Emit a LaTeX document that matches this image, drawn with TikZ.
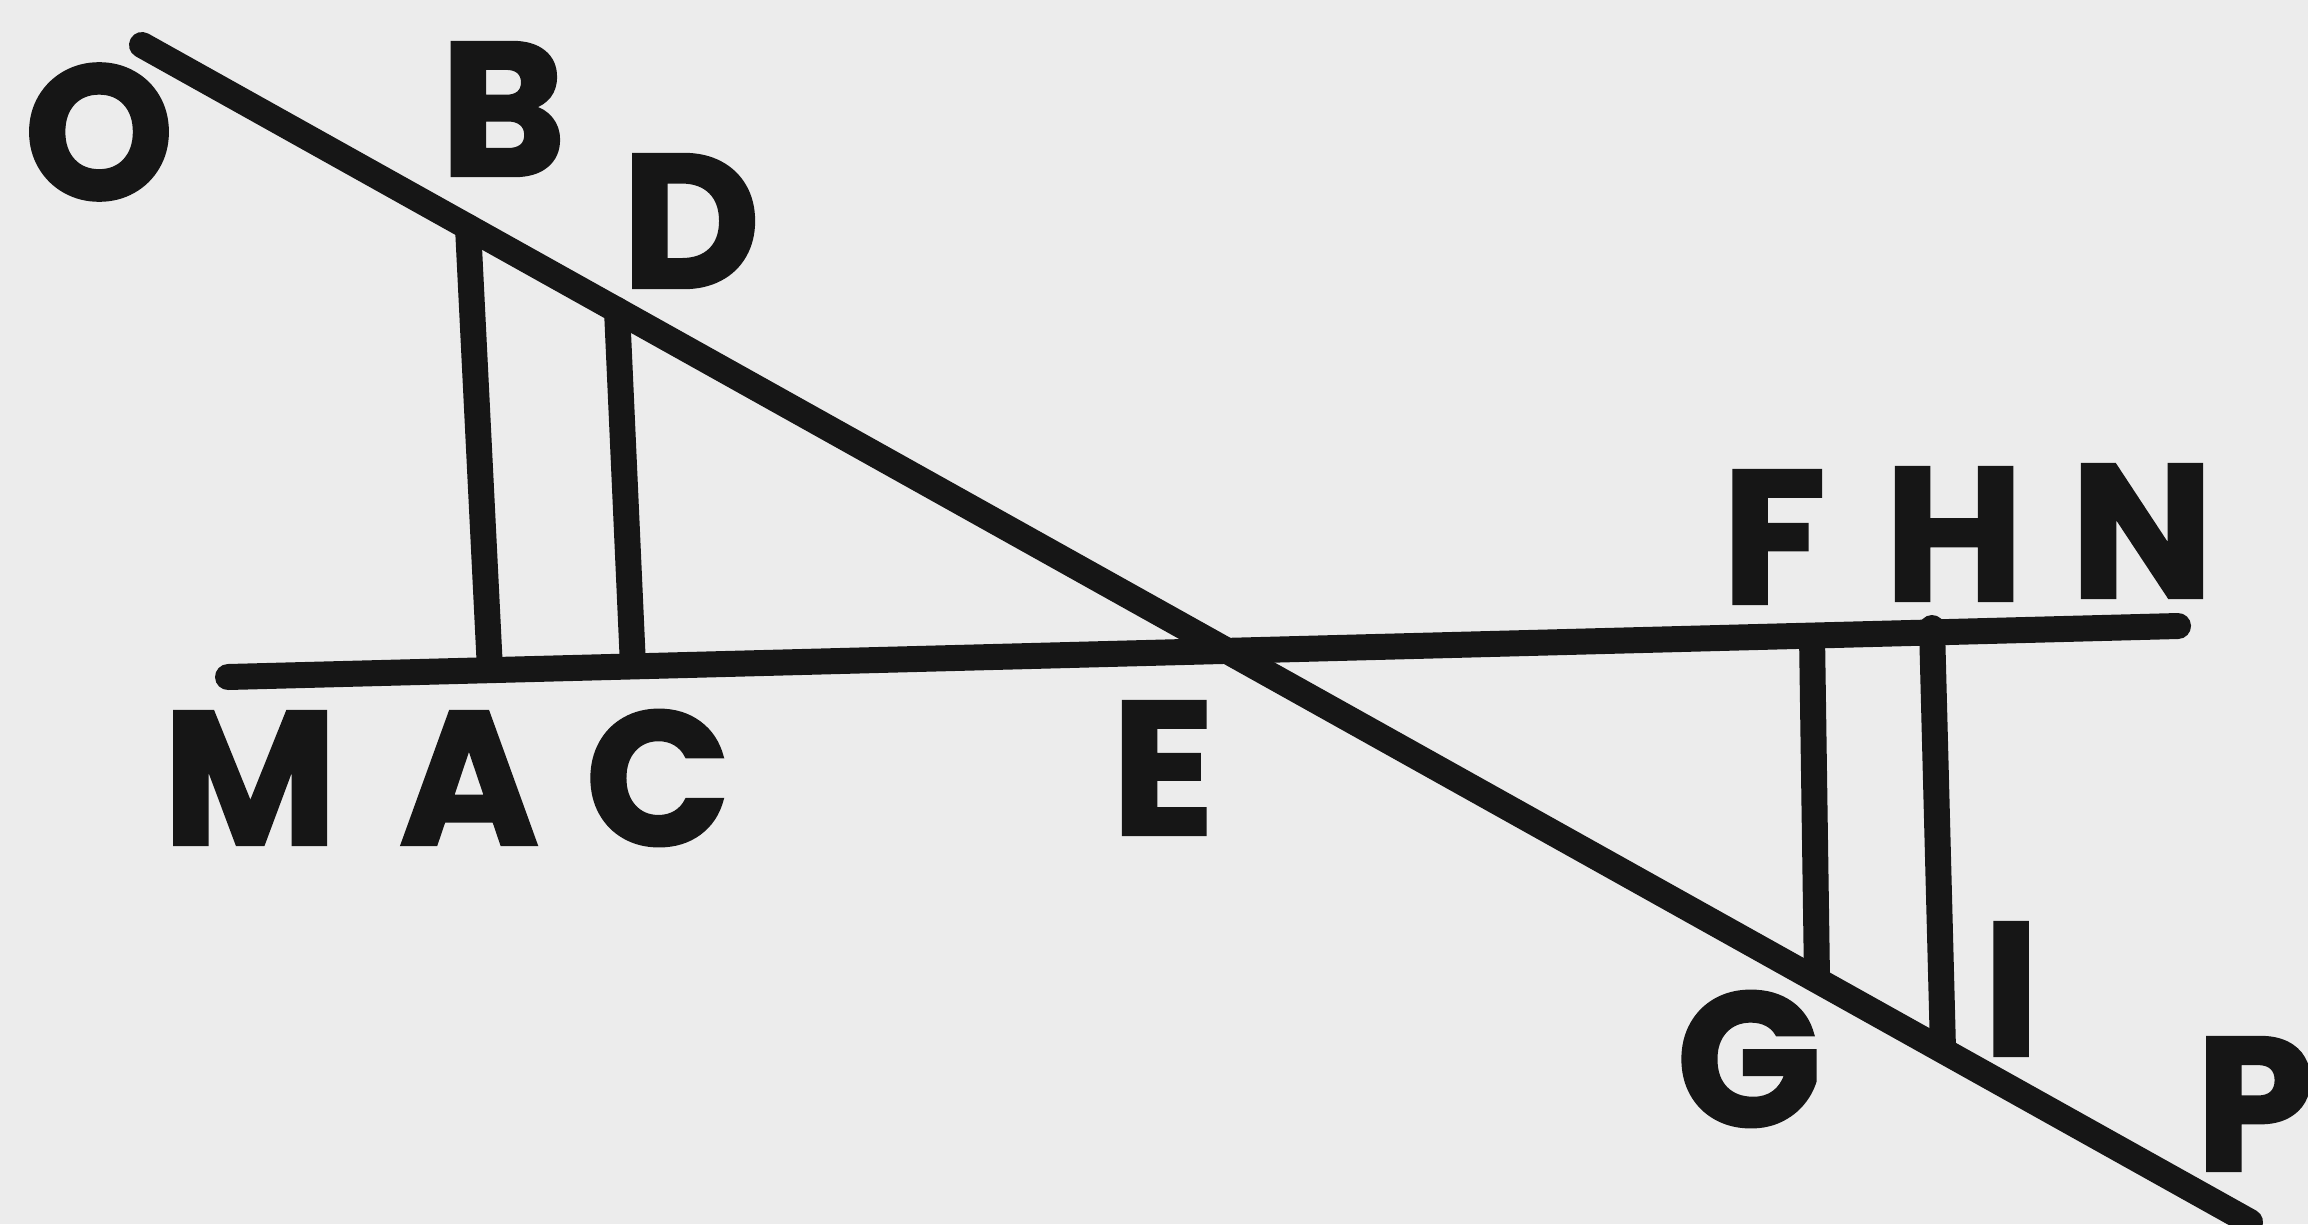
\documentclass[tikz,border=0pt]{standalone}
\usepackage{fontspec}
\setmainfont{Poppins}[BoldFeatures={FakeBold=1.6}]
\definecolor{ink}{RGB}{22,22,22}
\definecolor{paper}{RGB}{236,236,236}
\tikzset{
  ln/.style={draw=ink, line width=2.6pt, line cap=round},
  lbl/.style={inner sep=0pt, anchor=center, text=ink, font=\fontsize{19}{19}\selectfont\bfseries}
}
\begin{document}
\begin{tikzpicture}[x=0.1pt,y=0.1pt,yscale=-1,xscale=1]
		%set diagram frame: 2308 x 1224
		\fill [paper] (0,0) rectangle (2308,1224);
		\useasboundingbox (0,0) rectangle (2308,1224);
		
		% Points on the lines
		\coordinate (O) at (142,45);
		\coordinate (P) at (2250,1222);
		\coordinate (M) at (228,677);
		\coordinate (N) at (2178,626);
		\coordinate (B) at (468,227);
		\coordinate (A) at (490,670);
		\coordinate (D) at (617,310);
		\coordinate (C) at (633,666);
		\coordinate (F) at (1812,636);
		\coordinate (G) at (1817,980);
		\coordinate (H) at (1932,628);
		\coordinate (I) at (1943,1050);
		
		%Straight Lines
		\draw [ln] (O) -- (P) ;
		%Straight Lines
		\draw [ln] (M) -- (N) ;
		%Straight Lines
		\draw [ln] (B) -- (A) ;
		%Straight Lines
		\draw [ln] (D) -- (C) ;
		%Straight Lines
		\draw [ln] (F) -- (G) ;
		%Straight Lines
		\draw [ln] (H) -- (I) ;
		
		% Text Node
		\node [lbl] (labO) at (99,132) {O};
		% Text Node
		\node [lbl] (labB) at (503,109) {B};
		% Text Node
		\node [lbl] (labD) at (691,221) {D};
		% Text Node
		\node [lbl] (labM) at (250,778) {M};
		% Text Node
		\node [lbl] (labA) at (469,778) {A};
		% Text Node
		\node [lbl] (labC) at (658,778) {C};
		% Text Node
		\node [lbl] (labE) at (1163,768) {E};
		% Text Node
		\node [lbl] (labF) at (1774,537) {F};
		% Text Node
		\node [lbl] (labH) at (1954,534) {H};
		% Text Node
		\node [lbl] (labN) at (2142,531) {N};
		% Text Node
		\node [lbl] (labG) at (1749,1059) {G};
		% Text Node
		\node [lbl] (labI) at (2011,989) {I};
		% Text Node
		\node [lbl] (labP) at (2255,1104) {P};
		
	\end{tikzpicture}
\end{document}
